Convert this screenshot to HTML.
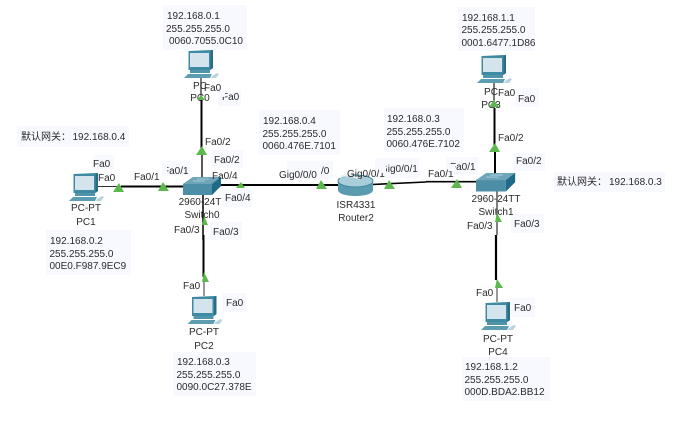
<!DOCTYPE html>
<html><head><meta charset="utf-8"><style>
html,body{margin:0;padding:0;background:#fff;width:692px;height:427px;overflow:hidden}
svg{display:block}
text{font-family:"Liberation Sans","Noto Sans CJK SC",sans-serif;font-size:10px;fill:#2b2b2b}
</style></head><body>
<svg width="692" height="427" viewBox="0 0 692 427" xmlns="http://www.w3.org/2000/svg">
<defs>
<g id="pc">
<path d="M4.500 1L27 0L29 0L29 18L26 20L4.500 20Z" fill="#3f8ba3"/>
<path d="M26.500 1L29 0L29 18L26.500 20Z" fill="#2a6c85"/>
<rect x="6" y="3" width="19" height="14" fill="#d3e4ec"/>
<rect x="6" y="20" width="20" height="3" fill="#4f94aa"/>
<path d="M4 24L28 24L26 28L0 28Z" fill="#5d9db2"/>
<path d="M28 26l5-3 2 1-3 4h-5z" fill="#b9d3dc"/>
</g>
<g id="sw">
<path d="M0 7L10 0L38 0L38 2L29 8L29 18L0 18Z" fill="#4c8ea5"/>
<path d="M0 7L10 0L38 0L29 7Z" fill="#6fa5b8"/>
<path d="M29 7L38 0L38 9L29 18Z" fill="#1f6a86"/>
<path d="M10 4h12M14 2h12" stroke="#a5cbd8" stroke-width="1"/>
</g>
</defs>

<!-- label backgrounds -->
<g fill="#f8f9ff">
<rect x="163" y="5" width="84" height="45"/>
<rect x="218" y="91" width="23" height="15"/>
<rect x="17" y="126" width="112" height="21"/>
<rect x="93" y="155" width="21" height="14"/>
<rect x="162" y="161" width="28" height="15"/>
<rect x="211" y="150" width="32" height="18"/>
<rect x="222" y="189" width="30" height="18"/>
<rect x="46" y="230" width="85" height="45"/>
<rect x="210" y="222" width="32" height="18"/>
<rect x="222" y="293" width="24" height="19"/>
<rect x="173" y="352" width="83" height="44"/>
<rect x="259" y="110" width="81" height="45"/>
<rect x="287" y="161" width="46" height="18"/>
<rect x="384" y="108" width="80" height="44"/>
<rect x="375" y="158" width="44" height="20"/>
<rect x="446" y="157" width="32" height="18"/>
<rect x="458" y="7" width="77" height="44"/>
<rect x="515" y="88" width="24" height="19"/>
<rect x="513" y="153" width="32" height="18"/>
<rect x="554" y="172" width="111" height="20"/>
<rect x="511" y="214" width="33" height="19"/>
<rect x="511" y="298" width="24" height="19"/>
<rect x="462" y="357" width="88" height="44"/>
</g>

<!-- device labels (under links) -->
<g text-anchor="middle">
<text x="86" y="211">PC-PT</text><text x="86" y="225">PC1</text>
<text x="204" y="335">PC-PT</text><text x="204" y="349">PC2</text>
<text x="200" y="89">PC</text><text x="200" y="101">PC0</text>
<text x="491" y="95">PC</text><text x="491" y="108">PC3</text>
<text x="498" y="342">PC-PT</text><text x="498" y="355">PC4</text>
<text x="200" y="205">2960-24T</text><text x="202" y="218">Switch0</text>
<text x="496" y="202">2960-24TT</text><text x="496" y="215">Switch1</text>
<text x="356" y="208">ISR4331</text><text x="356" y="221">Router2</text>
</g>

<!-- links -->
<g stroke="#000" fill="none" stroke-linecap="butt">
<path d="M95 186.500H121" stroke="#333" stroke-width="1"/>
<path d="M121 186.500H186" stroke-width="2"/>
<path d="M201 78V100" stroke="#222" stroke-width="1.200"/>
<path d="M201.500 100V152" stroke-width="2"/>
<path d="M202 152V180" stroke="#222" stroke-width="1.500"/>
<path d="M203 194V240" stroke-width="1.500"/>
<path d="M203.500 235V277" stroke-width="2"/>
<path d="M204 277V296" stroke="#333" stroke-width="1"/>
<path d="M221 185H342" stroke-width="2"/>
<path d="M372 184.500L426 182" stroke-width="1.600"/>
<path d="M426 181.700H478" stroke-width="1.600"/>
<path d="M494 83V108" stroke="#222" stroke-width="1.200"/>
<path d="M494.500 108V145" stroke-width="2"/>
<path d="M495 145V174" stroke-width="2"/>
<path d="M497 191V235" stroke="#555" stroke-width="1.500"/>
<path d="M496 235V280" stroke-width="2.200"/>
<path d="M497 280V302" stroke="#333" stroke-width="1"/>
</g>

<!-- devices -->
<use href="#pc" x="184" y="50"/>
<use href="#pc" x="69" y="173"/>
<use href="#pc" x="187.500" y="296"/>
<use href="#pc" x="477" y="55"/>
<use href="#pc" x="481" y="302"/>
<use href="#sw" x="183" y="177"/>
<use href="#sw" transform="translate(476,173) scale(1.030,1.030)"/>

<!-- router -->
<path d="M338 181V190C338 198 373 198 373 190V181Z" fill="#5b9bb0"/>
<ellipse cx="355.500" cy="181" rx="17.500" ry="6" fill="#a9cdd9" stroke="#3f8ba3"/>
<path d="M340 178C342 174 352 175 360 179" stroke="#e8f1f4" stroke-width="2" fill="none"/>

<!-- triangles -->
<g fill="#5cb84c">
<path d="M113 192L119 183L124 192Z"/>
<path d="M158 191L163 182L169 191Z"/>
<path d="M236 188L241 182L245 188Z"/>
<path d="M196 155L202 146L207 155Z"/>
<path d="M197 100L201 95L205 100Z"/>
<path d="M202 225L204 216L208 225Z"/>
<path d="M202 282L204 272L209 282Z"/>
<path d="M316 189L321 180L327 189Z"/>
<path d="M384 189L389 180L395 189Z"/>
<path d="M451 188L457 179L462 188Z"/>
<path d="M489 152L495 143L500 152Z"/>
<path d="M489 107L494 100L499 107Z"/>
<path d="M495 222L497 213L502 222Z"/>
<path d="M495 288L497 279L503 288Z"/>
</g>

<!-- port labels -->
<text x="204" y="91">Fa0</text>
<text x="222" y="100">Fa0</text>
<text x="205" y="145">Fa0/2</text>
<text x="214" y="163">Fa0/2</text>
<text x="93" y="167">Fa0</text>
<text x="98" y="181">Fa0</text>
<text x="134" y="180">Fa0/1</text>
<text x="163" y="174">Fa0/1</text>
<text x="212" y="179">Fa0/4</text>
<text x="225" y="201">Fa0/4</text>
<text x="174" y="233">Fa0/3</text>
<text x="213" y="235">Fa0/3</text>
<text x="183" y="289">Fa0</text>
<text x="226" y="306">Fa0</text>
<text x="279" y="178">Gig0/0/0</text>
<text x="321" y="174">/0</text>
<text x="347" y="177">Gig0/0/1</text>
<text x="380" y="172">Gig0/0/1</text>
<text x="428" y="177">Fa0/1</text>
<text x="450" y="170">Fa0/1</text>
<text x="498" y="96">Fa0</text>
<text x="518" y="102">Fa0</text>
<text x="498" y="141">Fa0/2</text>
<text x="516" y="164">Fa0/2</text>
<text x="467" y="229">Fa0/3</text>
<text x="514" y="227">Fa0/3</text>
<text x="476" y="296">Fa0</text>
<text x="514" y="311">Fa0</text>

<!-- masks that clip first letters -->
<g fill="#f8f9ff">
<rect x="222" y="93" width="3" height="4"/>
<rect x="162" y="167" width="5" height="8"/>
<rect x="379" y="165" width="7" height="8"/>
<rect x="449" y="164" width="6" height="7"/>
</g>

<!-- info -->
<text x="167" y="19">192.168.0.1</text>
<text x="166" y="32">255.255.255.0</text>
<text x="169" y="44">0060.7055.0C10</text>

<text x="21" y="140">默认网关：<tspan x="72.500">192.168.0.4</tspan></text>

<text x="50" y="244">192.168.0.2</text>
<text x="49.500" y="257">255.255.255.0</text>
<text x="49.500" y="269">00E0.F987.9EC9</text>

<text x="177" y="365">192.168.0.3</text>
<text x="176.500" y="378">255.255.255.0</text>
<text x="176.500" y="390">0090.0C27.378E</text>

<text x="263" y="124">192.168.0.4</text>
<text x="262.500" y="137">255.255.255.0</text>
<text x="262.500" y="149">0060.476E.7101</text>

<text x="387" y="122">192.168.0.3</text>
<text x="386.500" y="135">255.255.255.0</text>
<text x="386.500" y="147">0060.476E.7102</text>

<text x="462" y="21">192.168.1.1</text>
<text x="461.500" y="33">255.255.255.0</text>
<text x="461.500" y="46">0001.6477.1D86</text>

<text x="557" y="185">默认网关：<tspan x="609">192.168.0.3</tspan></text>

<text x="465" y="370">192.168.1.2</text>
<text x="464.500" y="383">255.255.255.0</text>
<text x="464.500" y="395">000D.BDA2.BB12</text>
</svg>
</body></html>
